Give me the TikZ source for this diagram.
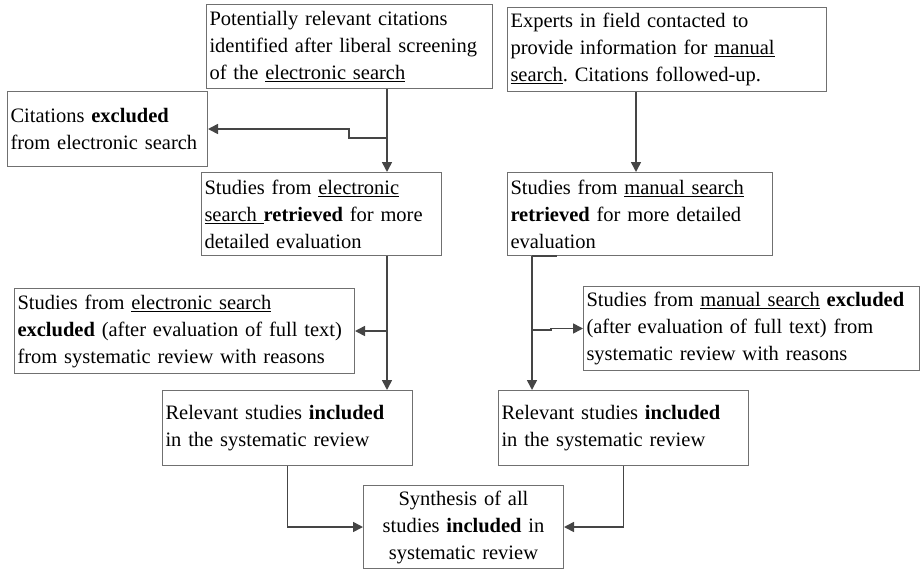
\documentclass[tikz,border=0pt]{standalone}
\usepackage{fontspec}
\setmainfont{Liberation Serif}
\usetikzlibrary{arrows.meta}
\definecolor{boxgray}{HTML}{707070}
\definecolor{linegray}{HTML}{454545}
% underline with a fixed rule just below the baseline
\newsavebox\undlbox
\newcommand\undl[1]{\leavevmode\sbox\undlbox{#1}\rlap{\rule[-2.8pt]{\wd\undlbox}{0.9pt}}\usebox\undlbox}
\frenchspacing
\tikzset{
  box/.style={draw=boxgray, line width=1pt, anchor=north west, inner xsep=3pt,
    inner ysep=0pt, align=left, font=\fontsize{20.5}{27}\selectfont},
  link/.style={draw=linegray, line width=1.6pt},
  arr/.style={link, -{Triangle[length=10pt,width=10pt]}},
}
\begin{document}
\begin{tikzpicture}[x=1pt,y=-1pt]
\useasboundingbox (0,0) rectangle (920,570);

% search sources
\node[box, text width=280, minimum height=84] (pot) at (206,4)
  {Potentially relevant citations\\identified after liberal screening\\of the \undl{electronic search}};
\node[box, text width=313, minimum height=84] (exp) at (507,7)
  {Experts in field contacted to\\provide information for \undl{manual}\\\undl{search}. Citations followed-up.};

% first screening
\node[box, text width=194, minimum height=75] (cex) at (7,91)
  {Citations \textbf{excluded}\\from electronic search};
\node[box, text width=234, minimum height=83] (ser) at (201,172)
  {Studies from \undl{electronic}\\\undl{search }\textbf{retrieved} for more\\detailed evaluation};
\node[box, text width=259, minimum height=83] (smr) at (507,172)
  {Studies from \undl{manual search}\\\textbf{retrieved} for more detailed\\evaluation};

% full-text exclusions
\node[box, text width=334, minimum height=85] (sex) at (14,288)
  {Studies from \undl{electronic search}\\\textbf{excluded} (after evaluation of full text)\\from systematic review with reasons};
\node[box, text width=330, minimum height=84] (smx) at (583,286)
  {Studies from \undl{manual search} \textbf{excluded}\\(after evaluation of full text) from\\systematic review with reasons};

% included studies
\node[box, text width=244, minimum height=75] (inl) at (162,390)
  {Relevant studies \textbf{included}\\in the systematic review};
\node[box, text width=244, minimum height=75] (inr) at (498,390)
  {Relevant studies \textbf{included}\\in the systematic review};

% synthesis
\node[box, align=center, text width=194, minimum height=83] (syn) at (363,485)
  {Synthesis of all\\studies \textbf{included} in\\systematic review};

% trunk lines
\coordinate (eTrunk) at (387,0);
\coordinate (xTrunk) at (636,0);
\coordinate (mTrunk) at (532,0);

\draw[arr] (pot.south -| eTrunk) -- (ser.north -| eTrunk);
\draw[arr] (exp.south -| xTrunk) -- (smr.north -| xTrunk);
\draw[arr] (eTrunk |- 0,138) -- ++(-38,0) |- (cex.east);

\draw[arr] (ser.south -| eTrunk) -- (inl.north -| eTrunk);
\draw[arr] (sex.east -| eTrunk) -- (sex.east);

\draw[link] (smr.south -| mTrunk) -- ++(25,0);
\draw[arr] (smr.south -| mTrunk) -- (inr.north -| mTrunk);
\draw[arr] (mTrunk |- 0,330) -- ++(19,0) |- (smx.west);

\draw[arr] (inl.south) |- (syn.west);
\draw[arr] (inr.south) |- (syn.east);
\end{tikzpicture}
\end{document}
